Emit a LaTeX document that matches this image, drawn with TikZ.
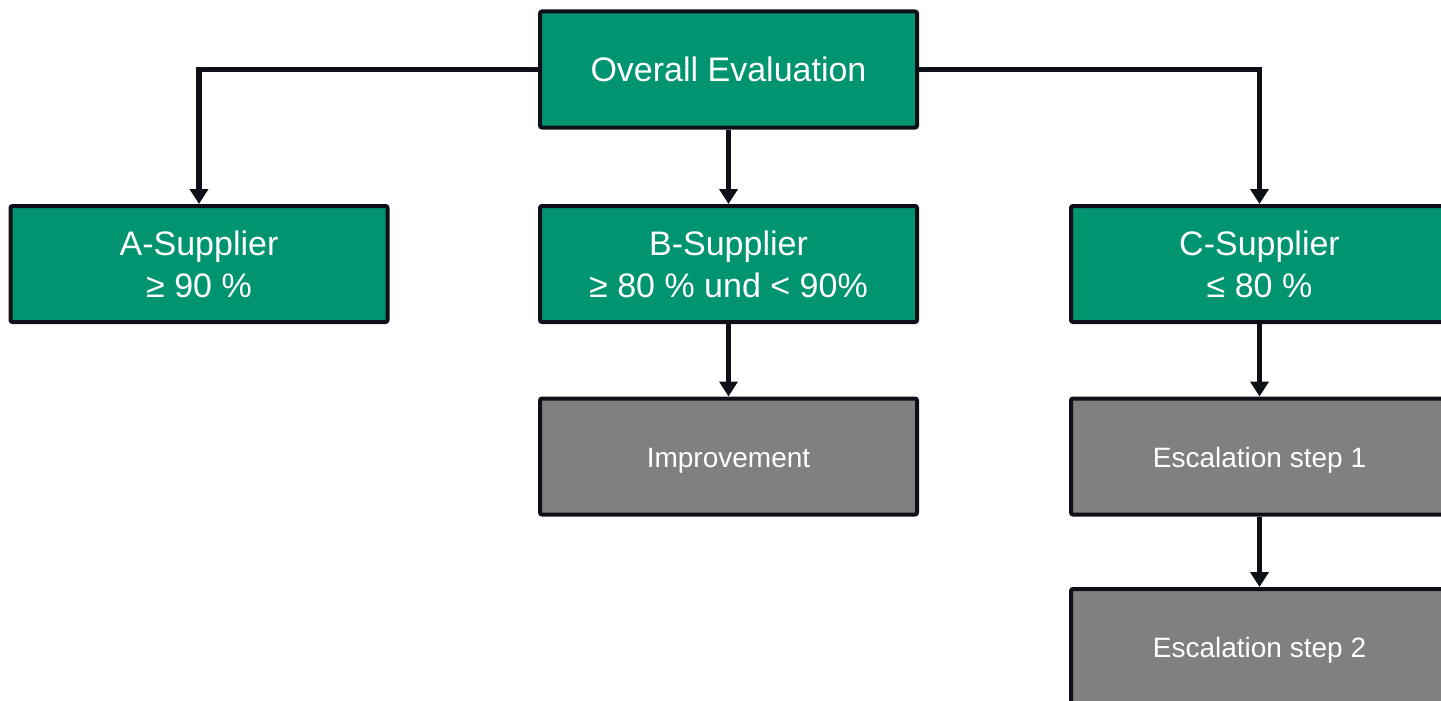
\documentclass[tikz,border=0pt]{standalone}
\usepackage{fontspec}
\setmainfont{Liberation Sans}
\usetikzlibrary{arrows.meta, positioning}
\definecolor{evalgreen}{RGB}{0,148,112}
\definecolor{stepgray}{RGB}{128,128,128}
\definecolor{linedark}{RGB}{13,17,23}

\begin{document}
\begin{tikzpicture}[
        x=1pt, y=-1pt,
        >={Triangle[length=15pt, width=18pt]},
        every node/.style={rectangle, draw=linedark, line width=4pt, rounded corners=2pt,
            minimum width=377pt, minimum height=116pt, text=white, align=center, inner sep=0pt},
        grade/.style={fill=evalgreen, font=\fontsize{34}{42}\selectfont},
        action/.style={fill=stepgray, font=\fontsize{28}{34}\selectfont,
            text height=25pt, text depth=4pt},
        link/.style={->, draw=linedark, line width=5.5pt}
    ]
        % Rahmen des Bildes
        \path[use as bounding box] (0,0) rectangle (1441,701);
        \clip (0,0) rectangle (1441,701);

        % Knoten
        \path
            (728.5,69.5)   node[grade]  (eval) {Overall Evaluation}
            (199,264)    node[grade]  (supA) {A-Supplier\\≥ 90 \%}
            (728.5,264)  node[grade]  (supB) {B-Supplier\\≥ 80 \% und < 90\%}
            (1259.5,264) node[grade]  (supC) {C-Supplier\\≤ 80 \%}
            (728.5,456.5)  node[action] (impr) {Improvement}
            (1259.5,456.5) node[action] (esc1) {Escalation step 1}
            (1259.5,647)   node[action] (esc2) {Escalation step 2};

        % Pfeile
        \draw[link] (eval.west) -| (supA.north);
        \draw[link] (eval.south) -- (supB.north);
        \draw[link] (eval.east) -| (supC.north);
        \draw[link] (supB.south) -- (impr.north);
        \draw[link] (supC.south) -- (esc1.north);
        \draw[link] (esc1.south) -- (esc2.north);
    \end{tikzpicture}
\end{document}
